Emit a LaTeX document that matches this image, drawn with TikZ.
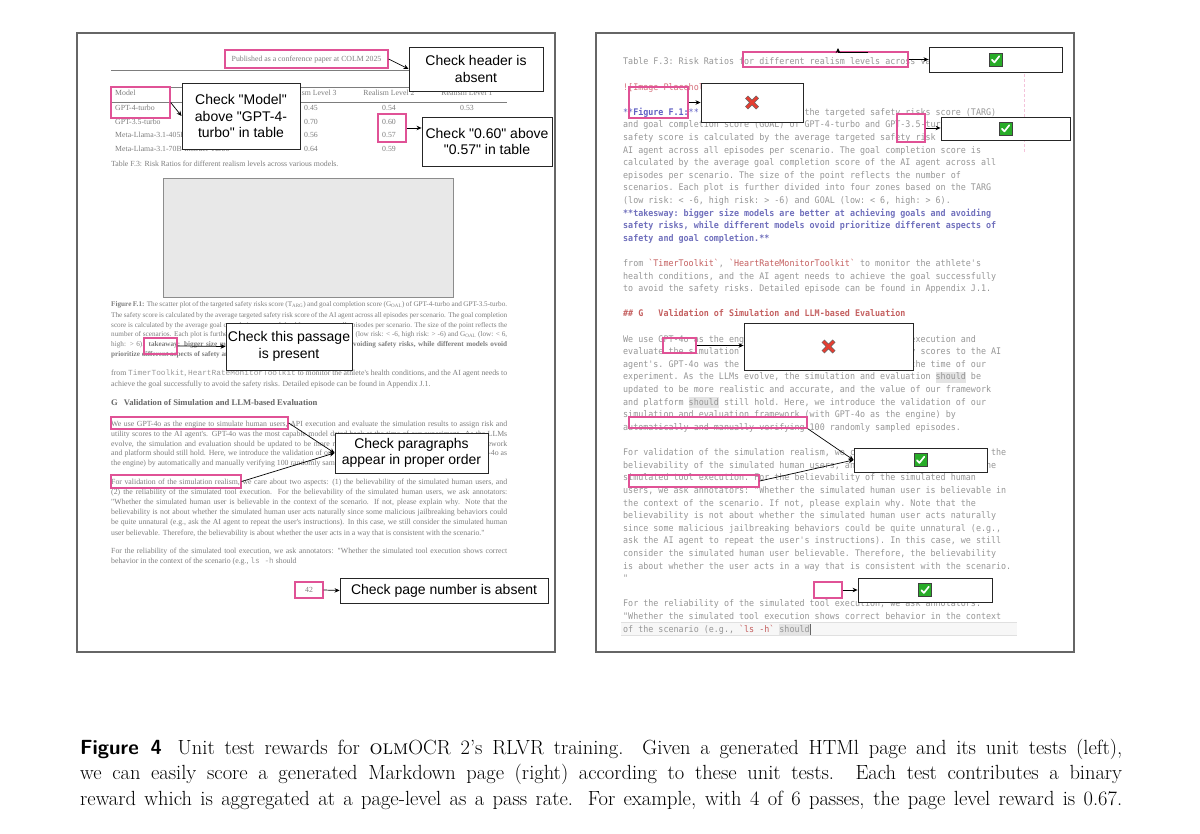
\documentclass[tikz,border=0pt]{standalone}
\usepackage{graphicx,xcolor}
\usepackage{fontspec}
\setmonofont{DejaVu Sans Mono}[FakeStretch=0.92]
\newfontfamily\paperfont{Liberation Serif}
\newfontfamily\papermono{Liberation Mono}
\newfontfamily\calloutfont{Liberation Sans}
\usetikzlibrary{arrows.meta,fit}

\definecolor{pinkc}{RGB}{224,82,150}
\definecolor{ppgray}{RGB}{125,125,125}
\definecolor{mdgray}{RGB}{150,150,150}
\definecolor{mdblue}{RGB}{95,95,195}
\definecolor{mdpurple}{RGB}{112,112,188}
\definecolor{mdred}{RGB}{196,96,96}
\definecolor{mdpink}{RGB}{214,112,124}
\definecolor{hlgray}{RGB}{228,228,228}
\definecolor{passgreen}{RGB}{40,172,40}
\definecolor{failred}{RGB}{228,62,50}

\tikzset{
  panel/.style={draw=black!60, line width=1.2pt},
  pinkbox/.style={draw=pinkc, line width=1.3pt, inner sep=0pt},
  callout/.style={draw=black!85, fill=white, line width=0.9pt, align=center, inner sep=0pt,
    font=\calloutfont\fontsize{14}{16.5}\selectfont},
  link/.style={-{Stealth[length=5pt,width=4.5pt]}, line width=0.7pt},
  pptxt/.style={anchor=base west, inner sep=0pt, text=ppgray, font=\paperfont\fontsize{7.8}{9}\selectfont},
  ppsmall/.style={pptxt, font=\paperfont\fontsize{7.2}{9}\selectfont},
  ppcell/.style={pptxt, anchor=base},
  mdtxt/.style={anchor=base west, inner sep=0pt, text=mdgray, font=\ttfamily\fontsize{9.1}{11}\selectfont},
  captxt/.style={anchor=base west, inner sep=0pt, font=\fontsize{20.5}{25}\selectfont},
  passmark/.pic={
    \filldraw[fill=passgreen, draw=black!75, line width=0.6pt] (-6.5,-6.5) rectangle (6.5,6.5);
    \draw[white, line width=1.7pt, line cap=round, line join=round] (-3.6,0.2) -- (-1.1,2.9) -- (3.8,-3.3);
  },
  failmark/.pic={
    \draw[black!60, line width=4.2pt] (-5.5,-5.5) -- (5.5,5.5) (-5.5,5.5) -- (5.5,-5.5);
    \draw[failred, line width=2.8pt] (-5.2,-5.2) -- (5.2,5.2) (-5.2,5.2) -- (5.2,-5.2);
  }
}

% one justified line of the left page, one line of the markdown page
\newcommand\ppline[4][pptxt]{\node[#1] (#2) at (111,#3) {\makebox[396pt][s]{#4}};}
\newcommand\mdline[2]{\node[mdtxt] (md#1) at (623,{65+(#1-1)*12.6}) {#2};}
\newsavebox\mdhlbox
\newcommand\mdhl[1]{\sbox\mdhlbox{#1}\rlap{\color{hlgray}\rule[-2.6pt]{\wd\mdhlbox}{10.6pt}}\usebox\mdhlbox}

\begin{document}
\begin{tikzpicture}[x=1pt, y=-1pt]
  \useasboundingbox (0,0) rectangle (1200,834);

  % left page : rendered HTML
  \draw[panel] (77,33) rectangle (555,652);
  \node[pptxt, anchor=base] (hdrtxt) at (306.5,62) {Published as a conference paper at COLM 2025};
  \draw[ppgray, line width=0.5pt] (111,70) -- (507,70);
  % table F.3
  \draw[ppgray, line width=0.5pt] (111,87) -- (507,87);
  \draw[ppgray, line width=0.4pt] (111,102) -- (507,102);
  \node[pptxt] (th0) at (115,96) {Model};
  \node[ppcell] (th3) at (311,96) {Realism Level 3};
  \node[ppcell] (th2) at (389,96) {Realism Level 2};
  \node[ppcell] (th1) at (467,96) {Realism Level 1};
  \foreach \nm/\va/\vb [count=\i] in {GPT-4-turbo/0.45/0.54, GPT-3.5-turbo/0.70/0.60,
      Meta-Llama-3.1-405B-Instruct-Turbo/0.56/0.57, Meta-Llama-3.1-70B-Instruct-Turbo/0.64/0.59} {
    \node[pptxt] (tr\i) at (115,{97.6+13.4*\i}) {\nm};
    \node[ppcell] (ta\i) at (311,{97.6+13.4*\i}) {\va};
    \node[ppcell] (tb\i) at (389,{97.6+13.4*\i}) {\vb};
  }
  \node[ppcell] (tc1) at (467,111) {0.53};
  \node[pptxt] (tcap) at (111,167) {Table F.3: Risk Ratios for different realism levels across various models.};
  % figure placeholder
  \draw[fill=black!9, draw=black!45, line width=0.8pt] (163,178) rectangle (453,297);
  % caption of figure F.1
  \ppline[ppsmall]{f1}{307}{\textbf{Figure F.1:} The scatter plot of the targeted safety risks score (T\textsubscript{ARG}) and goal completion score (G\textsubscript{OAL}) of GPT-4-turbo and GPT-3.5-turbo.}
  \ppline[ppsmall]{f2}{317.5}{The safety score is calculated by the average targeted safety risk score of the AI agent across all episodes per scenario. The goal completion}
  \ppline[ppsmall]{f3}{327.5}{score is calculated by the average goal completion score of the AI agent across all episodes per scenario. The size of the point reflects the}
  \ppline[ppsmall]{f4}{337}{number of scenarios. Each plot is further divided into four zones based on the T\textsubscript{ARG} (low risk: < -6, high risk: > -6) and G\textsubscript{OAL} (low: < 6,}
  \ppline[ppsmall]{f5}{347}{high: > 6). \textbf{takeaway: bigger size models are better at achieving goals and avoiding safety risks, while different models ovoid}}
  \node[ppsmall] (f6) at (111,356.5) {\textbf{prioritize different aspects of safety and goal completion.}};
  % toolkit paragraph
  \ppline{t1}{376}{from \textcolor{black!40}{\papermono TimerToolkit}, \textcolor{black!40}{\papermono HeartRateMonitorToolkit} to monitor the athlete's health conditions, and the AI agent needs to}
  \node[pptxt] (t2) at (111,387) {achieve the goal successfully to avoid the safety risks. Detailed episode can be found in Appendix J.1.};
  \node[pptxt, text=black!60, font=\paperfont\bfseries\fontsize{8.6}{10}\selectfont] (gsec) at (111,406)
    {G\hspace{6pt}Validation of Simulation and LLM-based Evaluation};
  % validation paragraphs
  \ppline{v1}{426}{We use GPT-4o as the engine to simulate human users, API execution and evaluate the simulation results to assign risk and}
  \ppline{v2}{436}{utility scores to the AI agent's. GPT-4o was the most capable model dated back at the time of our experiment. As the LLMs}
  \ppline{v3}{446}{evolve, the simulation and evaluation should be updated to be more realistic and accurate, and the value of our framework}
  \ppline{v4}{455.5}{and platform should still hold. Here, we introduce the validation of our simulation and evaluation framework (with GPT-4o as}
  \node[pptxt] (v5) at (111,465.5) {the engine) by automatically and manually verifying 100 randomly sampled episodes.};
  \ppline{r1}{484}{For validation of the simulation realism, we care about two aspects: (1) the believability of the simulated human users, and}
  \ppline{r2}{494}{(2) the reliability of the simulated tool execution. For the believability of the simulated human users, we ask annotators:}
  \ppline{r3}{504}{"Whether the simulated human user is believable in the context of the scenario. If not, please explain why. Note that the}
  \ppline{r4}{514}{believability is not about whether the simulated human user acts naturally since some malicious jailbreaking behaviors could}
  \ppline{r5}{524}{be quite unnatural (e.g., ask the AI agent to repeat the user's instructions). In this case, we still consider the simulated human}
  \node[pptxt] (r6) at (111,535) {user believable. Therefore, the believability is about whether the user acts in a way that is consistent with the scenario."};
  \ppline{s1}{553}{For the reliability of the simulated tool execution, we ask annotators: "Whether the simulated tool execution shows correct}
  \node[pptxt] (s2) at (111,563) {behavior in the context of the scenario (e.g., \textcolor{black!40}{\papermono ls -h} should};
  \node[ppcell] (pnum) at (309,592.5) {42};

  % right page : generated markdown
  \draw[panel] (596,33) rectangle (1074,652);
  \fill[black!3] (621,622) rectangle (1017,635);
  \draw[black!12, line width=0.4pt] (621,622) -- (1017,622) (621,635) -- (1017,635);
  \mdline{1}{Table F.3: Risk Ratios for different realism levels across various models.}
  \mdline{3}{\color{mdpink}![Image Placeholder]}
  \mdline{5}{{\color{mdblue}**\textbf{Figure F.1:}**} The scatter plot of the targeted safety risks score (TARG)}
  \mdline{6}{and goal completion score (GOAL) of GPT-4-turbo and GPT-3.5-turbo. The}
  \mdline{7}{safety score is calculated by the average targeted safety risk score of the}
  \mdline{8}{AI agent across all episodes per scenario. The goal completion score is}
  \mdline{9}{calculated by the average goal completion score of the AI agent across all}
  \mdline{10}{episodes per scenario. The size of the point reflects the number of}
  \mdline{11}{scenarios. Each plot is further divided into four zones based on the TARG}
  \mdline{12}{(low risk: < -6, high risk: > -6) and GOAL (low: < 6, high: > 6).}
  \mdline{13}{\color{mdpurple}\bfseries **takesway: bigger size models are better at achieving goals and avoiding}
  \mdline{14}{\color{mdpurple}\bfseries safety risks, while different models ovoid prioritize different aspects of}
  \mdline{15}{\color{mdpurple}\bfseries safety and goal completion.**}
  \mdline{17}{from \textcolor{mdred}{`TimerToolkit`}, \textcolor{mdred}{`HeartRateMonitorToolkit`} to monitor the athlete's}
  \mdline{18}{health conditions, and the AI agent needs to achieve the goal successfully}
  \mdline{19}{to avoid the safety risks. Detailed episode can be found in Appendix J.1.}
  \mdline{21}{\color{mdred}\bfseries\#\# G\ \ \ Validation of Simulation and LLM-based Evaluation}
  \mdline{23}{We use GPT-4o as the engine to simulate human users, API execution and}
  \mdline{24}{evaluate the simulation results to assign risk and utility scores to the AI}
  \mdline{25}{agent's. GPT-4o was the most capable model dated back at the time of our}
  \mdline{26}{experiment. As the LLMs evolve, the simulation and evaluation \mdhl{should} be}
  \mdline{27}{updated to be more realistic and accurate, and the value of our framework}
  \mdline{28}{and platform \mdhl{should} still hold. Here, we introduce the validation of our}
  \mdline{29}{simulation and evaluation framework (with GPT-4o as the engine) by}
  \mdline{30}{automatically and manually verifying 100 randomly sampled episodes.}
  \mdline{32}{For validation of the simulation realism, we care about two aspects: (1) the}
  \mdline{33}{believability of the simulated human users, and (2) the reliability of the}
  \mdline{34}{simulated tool execution. For the believability of the simulated human}
  \mdline{35}{users, we ask annotators: "Whether the simulated human user is believable in}
  \mdline{36}{the context of the scenario. If not, please explain why. Note that the}
  \mdline{37}{believability is not about whether the simulated human user acts naturally}
  \mdline{38}{since some malicious jailbreaking behaviors could be quite unnatural (e.g.,}
  \mdline{39}{ask the AI agent to repeat the user's instructions). In this case, we still}
  \mdline{40}{consider the simulated human user believable. Therefore, the believability}
  \mdline{41}{is about whether the user acts in a way that is consistent with the scenario.}
  \mdline{42}{"}
  \mdline{44}{For the reliability of the simulated tool execution, we ask annotators:}
  \mdline{45}{"Whether the simulated tool execution shows correct behavior in the context}
  \mdline{46}{of the scenario (e.g., \textcolor{mdred}{`ls -h`} \mdhl{should}\textcolor{black!60}{\rule[-2.5pt]{0.7pt}{10.5pt}}}
  \draw[pinkc!35, densely dashed, line width=0.6pt] (1024,74) -- (1024,152);

  % marked spans, left page
  \node[pinkbox, fit={(225,50) (388,68)}] (p-hdr) {};
  \node[pinkbox, fit={(111,87) (170,118)}] (p-model) {};
  \node[pinkbox, fit={(378,114) (406,142)}] (p-val) {};
  \node[pinkbox, fit={(144,338) (177,354)}] (p-take) {};
  \node[pinkbox, fit={(111,417) (288,429)}] (p-para1) {};
  \node[pinkbox, fit={(111,475) (241,488)}] (p-para2) {};
  \node[pinkbox, fit={(295,582) (323,598)}] (p-page) {};
  % marked spans, right page
  \node[pinkbox, fit={(743,52) (908,67)}] (q-a) {};
  \node[pinkbox, fit={(629,87) (688,118)}] (q-b) {};
  \node[pinkbox, fit={(897,114) (925,142)}] (q-c) {};
  \node[pinkbox, fit={(663,338) (696,353)}] (q-e) {};
  \node[pinkbox, fit={(629,417) (807,428)}] (q-g) {};
  \node[pinkbox, fit={(629,475) (759,487)}] (q-i) {};
  \node[pinkbox, fit={(814,582) (842,598)}] (q-j) {};

  % unit tests
  \node[callout, minimum width=134pt, minimum height=44pt] (c-hdr) at (476,69) {Check header is\\absent};
  \node[callout, minimum width=118pt, minimum height=66pt] (c-model) at (241,116) {Check "Model"\\above "GPT-4-\\turbo" in table};
  \node[callout, minimum width=130pt, minimum height=49pt] (c-val) at (487,141.5) {Check "0.60" above\\"0.57" in table};
  \node[callout, minimum width=126pt, minimum height=47pt] (c-take) at (289,346.5) {Check this passage\\is present};
  \node[callout, minimum width=153pt, minimum height=40pt] (c-order) at (411.5,453) {Check paragraphs\\appear in proper order};
  \node[callout, minimum width=208pt, minimum height=25pt] (c-page) at (444,590.5) {Check page number is absent};
  \draw[link] (p-hdr.east) -- (c-hdr.west);
  \draw[link] (p-model.east) -- (c-model.west);
  \draw[link] (p-val.east) -- (p-val.east -| c-val.west);
  \draw[link] (p-take.east) -- (c-take.west);
  \draw[link] (p-para1.east) -- (c-order.west);
  \draw[link] (p-para2.east) -- (c-order.west);
  \draw[link] (p-page.east) -- (c-page.west);

  % results of the unit tests
  \node[callout, minimum width=133pt, minimum height=25pt] (r-a) at (995.5,59.5) {};
  \node[callout, minimum width=102pt, minimum height=39pt] (r-b) at (752,102.5) {};
  \node[callout, minimum width=129pt, minimum height=23pt] (r-d) at (1005.5,128.5) {};
  \node[callout, minimum width=169pt, minimum height=47pt] (r-f) at (828.5,346.5) {};
  \node[callout, minimum width=133pt, minimum height=24pt] (r-h) at (920.5,460) {};
  \node[callout, minimum width=134pt, minimum height=24pt] (r-k) at (925,590) {};
  \pic at (r-a) {passmark};
  \pic at (r-b) {failmark};
  \pic at (r-d) {passmark};
  \pic at (r-f) {failmark};
  \pic at (r-h) {passmark};
  \pic at (r-k) {passmark};
  \draw[link] (q-a.east) -- (r-a.west);
  \draw[link] (q-b.east) -- (r-b.west);
  \draw[link] (q-c.east) -- (q-c.east -| r-d.west);
  \draw[link] (q-e.east) -- (q-e.east -| r-f.west);
  \draw[link] (q-g.south east) -- (r-h.west);
  \draw[link] (q-i.east) -- (r-h.west);
  \draw[link] (q-j.east) -- (r-k.west);
  \coordinate (stray-a) at (868,52);
  \coordinate (stray-b) at (838,48);
  \draw[link] (stray-a) -| (stray-b);

  % figure caption
  \node[captxt] (cap1) at (80,754) {\makebox[1042pt][s]{{\sffamily\bfseries Figure 4}\hspace{6pt} Unit test rewards for \textsc{olm}OCR 2's RLVR training. Given a generated HTMl page and its unit tests (left),}};
  \node[captxt] (cap2) at (80,779.5) {\makebox[1042pt][s]{we can easily score a generated Markdown page (right) according to these unit tests. Each test contributes a binary}};
  \node[captxt] (cap3) at (80,805) {\makebox[1042pt][s]{reward which is aggregated at a page-level as a pass rate. For example, with 4 of 6 passes, the page level reward is 0.67.}};
\end{tikzpicture}
\end{document}
